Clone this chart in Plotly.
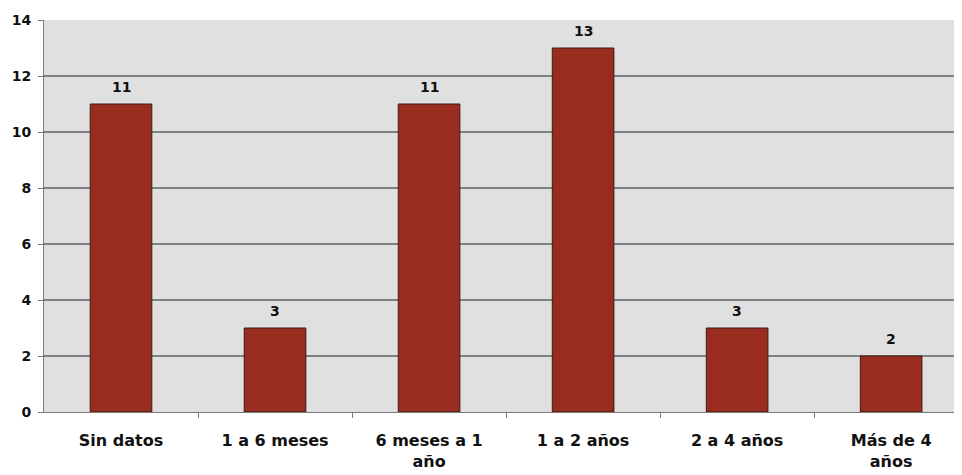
import plotly.graph_objects as go

categories = ["Sin datos", "1 a 6 meses", "6 meses a 1<br>año", "1 a 2 años", "2 a 4 años", "Más de 4<br>años"]
values = [11, 3, 11, 13, 3, 2]
y_ticks = [0, 2, 4, 6, 8, 10, 12, 14]

FONT = "DejaVu Sans, Arial"
xs = list(range(len(categories)))

fig = go.Figure()
fig.add_trace(go.Bar(
    x=xs,
    y=values,
    width=0.4,
    marker=dict(color="#9a2c1f", line=dict(color="#3a1a14", width=1)),
    hoverinfo="skip",
))

for x, v in zip(xs, values):
    fig.add_annotation(
        x=x, y=v, xref="x", yref="y",
        text="<b>%d</b>" % v, showarrow=False,
        yanchor="bottom", yshift=7,
        font=dict(family=FONT, size=14, color="#111111"),
    )

fig.update_layout(
    width=954, height=467,
    margin=dict(l=36, r=0, t=12, b=63),
    paper_bgcolor="white",
    plot_bgcolor="#e0e0e0",
    showlegend=False,
    font=dict(family=FONT, size=14, color="#111111"),
    bargap=0.6,
)
fig.update_xaxes(
    range=[-0.5, 5.46],
    automargin=False,
    tickmode="array",
    tickvals=xs,
    ticktext=["<b>%s</b>" % c for c in categories],
    ticks="",
    showgrid=False,
    showline=True, linecolor="#7a7a7a", linewidth=1,
    tickfont=dict(family=FONT, size=16),
    ticklabelstandoff=14,
)
fig.update_xaxes(minor=dict(tickvals=[0.5, 1.5, 2.5, 3.5, 4.5], ticks="outside", ticklen=5, tickcolor="#7a7a7a"))
fig.update_yaxes(
    range=[0, 14],
    automargin=False,
    tickvals=y_ticks,
    ticktext=["<b>%d</b>" % t for t in y_ticks],
    ticks="outside", ticklen=5, tickcolor="#7a7a7a",
    showgrid=True, gridcolor="#7d8186", gridwidth=1.5,
    showline=True, linecolor="#7a7a7a", linewidth=1,
    zeroline=False,
    tickfont=dict(family=FONT, size=14),
    ticklabelstandoff=4,
)

fig.write_html("out.html")
